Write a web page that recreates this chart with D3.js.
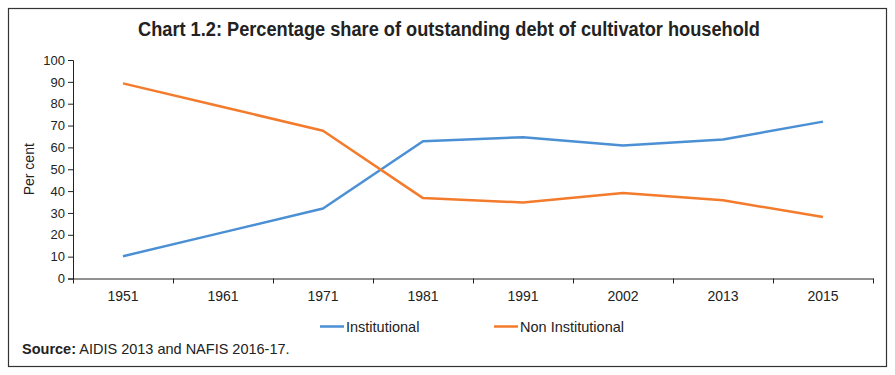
<!DOCTYPE html>
<html>
<head>
<meta charset="utf-8">
<script src="https://cdn.jsdelivr.net/npm/d3@7"></script>
<style>
    body { margin: 0; background: #fff; }
    #vis { width: 895px; height: 375px; }
    text { font-family: "Liberation Sans", Arial, sans-serif; fill: #222; }
</style>
</head>
<body>
<div id="vis"></div>
<script>
var years = ['1951', '1961', '1971', '1981', '1991', '2002', '2013', '2015'];
var institutional = [10.2, 21.1, 32.0, 62.8, 64.7, 60.9, 63.6, 71.8];
var non_institutional = [89.3, 78.5, 67.6, 36.8, 34.8, 39.1, 35.8, 28.1];
var y_ticks = [0, 10, 20, 30, 40, 50, 60, 70, 80, 90, 100];

var series = [
    { name: 'Institutional', values: institutional, colour: '#4b8fd4' },
    { name: 'Non Institutional', values: non_institutional, colour: '#f37b2b' }
];

var width = 895;
var height = 375;

var margin = {
    top: 60,
    bottom: 96,
    left: 73,
    right: 22
};

var svg = d3.select('#vis')
    .append('svg')
    .attr('width', width)
    .attr('height', height);

// outer frame
svg.append('rect')
    .attr('x', 8.5)
    .attr('y', 8.5)
    .attr('width', 878)
    .attr('height', 358)
    .attr('fill', 'none')
    .attr('stroke', '#333')
    .attr('stroke-width', 1.2);

svg.append('text')
    .attr('x', 449)
    .attr('y', 36)
    .attr('text-anchor', 'middle')
    .attr('textLength', 622)
    .attr('lengthAdjust', 'spacingAndGlyphs')
    .style('font-weight', 'bold')
    .style('font-size', '19.5px')
    .text('Chart 1.2: Percentage share of outstanding debt of cultivator household');

var g = svg.append('g')
    .attr('transform', 'translate(' + margin.left + ',' + margin.top + ')');

var w = width - margin.left - margin.right;
var h = height - margin.top - margin.bottom - 0.5;

var x_scale = d3.scaleBand()
    .domain(years)
    .range([0, w])
    .padding(0);

var y_scale = d3.scaleLinear()
    .domain([0, 100])
    .range([h, 0]);

// y axis
var y_axis = d3.axisLeft(y_scale)
    .tickValues(y_ticks)
    .tickSize(5)
    .tickPadding(3);

g.append('g')
    .attr('class', 'y axis')
    .call(y_axis);

// x axis: labels centred in bands, ticks at band edges
var x_axis = d3.axisBottom(x_scale)
    .tickSize(0)
    .tickPadding(13);

var xg = g.append('g')
    .attr('class', 'x axis')
    .attr('transform', 'translate(0,' + h + ')')
    .call(x_axis);

var edges = years.map(function(d) {
    return x_scale(d);
}).concat([w]);

xg.selectAll('.edge')
    .data(edges)
    .enter()
    .append('line')
    .attr('class', 'edge')
    .attr('x1', function(d) { return d + 0.5; })
    .attr('x2', function(d) { return d + 0.5; })
    .attr('y1', 0)
    .attr('y2', 5)
    .attr('stroke', '#222');

g.selectAll('.axis path, .axis line')
    .attr('stroke', '#222');
g.selectAll('.y.axis text')
    .style('font-size', '13px')
    .attr('fill', '#222');
g.selectAll('.x.axis text')
    .style('font-size', '14px')
    .attr('fill', '#222');

// y label
svg.append('text')
    .attr('transform', 'translate(34,' + (margin.top + h / 2) + ') rotate(-90)')
    .attr('text-anchor', 'middle')
    .style('font-size', '14px')
    .text('Per cent');

var line = d3.line()
    .x(function(d, i) { return x_scale(years[i]) + x_scale.bandwidth() / 2; })
    .y(function(d) { return y_scale(d); });

g.selectAll('.series')
    .data(series)
    .enter()
    .append('path')
    .attr('class', 'series')
    .attr('d', function(d) { return line(d.values); })
    .attr('fill', 'none')
    .attr('stroke', function(d) { return d.colour; })
    .attr('stroke-width', 2.5)
    .attr('stroke-linejoin', 'round');

// legend
var legend_x = [320, 494];
var legend = svg.selectAll('.legend')
    .data(series)
    .enter()
    .append('g')
    .attr('class', 'legend')
    .attr('transform', function(d, i) { return 'translate(' + legend_x[i] + ',326.5)'; });

legend.append('line')
    .attr('x1', 0)
    .attr('x2', 24)
    .attr('stroke', function(d) { return d.colour; })
    .attr('stroke-width', 2.5);

legend.append('text')
    .attr('x', 26)
    .attr('dy', '0.35em')
    .style('font-size', '14.5px')
    .text(function(d) { return d.name; });

var source = svg.append('text')
    .attr('x', 22)
    .attr('y', 354)
    .style('font-size', '14.5px');
source.append('tspan')
    .style('font-weight', 'bold')
    .text('Source:');
source.append('tspan')
    .text(' AIDIS 2013 and NAFIS 2016-17.');
</script>
</body>
</html>
